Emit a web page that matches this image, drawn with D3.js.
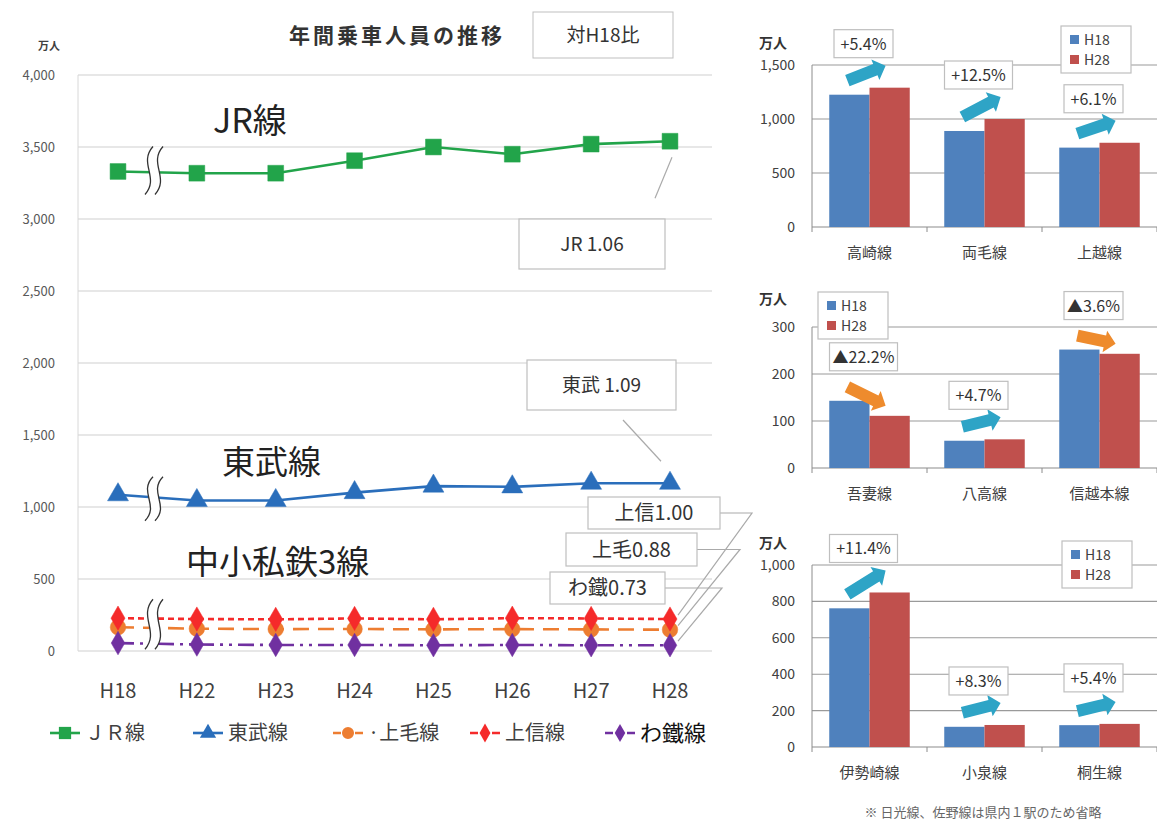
<!DOCTYPE html>
<html>
<head>
<meta charset="utf-8">
<script src="https://cdn.jsdelivr.net/npm/d3@7"></script>
<style>
body { margin: 0; background: #fff; }
text { font-family: "Noto Sans CJK JP", "Noto Sans", sans-serif; }
</style>
</head>
<body>
<div id="canvas"></div>
<script>
// main line chart data (万人)
var years = ["H18", "H22", "H23", "H24", "H25", "H26", "H27", "H28"];
var jrVals = [3330, 3318, 3318, 3405, 3500, 3450, 3520, 3540];
var tobuVals = [1085, 1045, 1045, 1100, 1145, 1140, 1165, 1165];
var joshinVals = [228, 222, 220, 226, 220, 228, 226, 222];
var jomoVals = [165, 155, 152, 153, 150, 152, 150, 148];
var watetsuVals = [55, 45, 42, 42, 40, 42, 40, 40];
var mainTicks = [0, 500, 1000, 1500, 2000, 2500, 3000, 3500, 4000];

// right bar charts data
var lines1 = ["高崎線", "両毛線", "上越線"];
var h18a = [1225, 889, 735], h28a = [1290, 1000, 780];
var pct1 = ["+5.4%", "+12.5%", "+6.1%"];
var lines2 = ["吾妻線", "八高線", "信越本線"];
var h18b = [143, 58, 252], h28b = [111, 61, 243];
var pct2 = ["▲22.2%", "+4.7%", "▲3.6%"];
var lines3 = ["伊勢崎線", "小泉線", "桐生線"];
var h18c = [762, 111, 120], h28c = [849, 121, 127];
var pct3 = ["+11.4%", "+8.3%", "+5.4%"];

var svg = d3.select("#canvas").append("svg")
	.attr("width", 1157).attr("height", 823);

// ---------- main chart ----------
var x = d3.scalePoint().domain(years).range([118, 670]);
var y = d3.scaleLinear().domain([0, 4000]).range([651, 75]);
var plotL = 78, plotR = 712;

var g = svg.append("g");

// grid
g.selectAll(".grid").data(mainTicks).enter().append("line")
	.attr("x1", plotL).attr("x2", plotR)
	.attr("y1", function(d) { return y(d); }).attr("y2", function(d) { return y(d); })
	.attr("stroke", "#cfcfcf").attr("stroke-width", 1.2);
g.append("line").attr("x1", plotL).attr("x2", plotL).attr("y1", y(4000)).attr("y2", y(0))
	.attr("stroke", "#d8d8d8");

// y tick labels
g.selectAll(".ytl").data(mainTicks).enter().append("text")
	.attr("x", 55).attr("y", function(d) { return y(d) + 5; })
	.attr("text-anchor", "end").attr("font-size", 13).attr("fill", "#595959")
	.text(d3.format(","));
g.append("text").attr("x", 49).attr("y", 50).attr("text-anchor", "middle")
	.attr("font-size", 11).attr("font-weight", "bold").attr("fill", "#404040").text("万人");

// x tick labels
g.selectAll(".xtl").data(years).enter().append("text")
	.attr("x", function(d) { return x(d); }).attr("y", 698)
	.attr("text-anchor", "middle").attr("font-size", 20).attr("fill", "#404040")
	.text(function(d) { return d; });

// title
g.append("text").attr("x", 397).attr("y", 43).attr("text-anchor", "middle")
	.attr("font-size", 21).attr("letter-spacing", 3).attr("font-weight", "bold").attr("fill", "#333").text("年間乗車人員の推移");
g.append("rect").attr("x", 533).attr("y", 12).attr("width", 140).attr("height", 46)
	.attr("fill", "#fff").attr("stroke", "#bfbfbf");
g.append("text").attr("x", 603).attr("y", 42).attr("text-anchor", "middle")
	.attr("font-size", 19).attr("fill", "#333").text("対H18比");

var series = [
	{ name: "JR", vals: jrVals, color: "#22a44a", dash: null, marker: "square", size: 250 },
	{ name: "東武", vals: tobuVals, color: "#2a6ebb", dash: null, marker: "triangle", size: 190 },
	{ name: "上毛", vals: jomoVals, color: "#ed7d31", dash: "16,9", marker: "circle", size: 190 },
	{ name: "上信", vals: joshinVals, color: "#f52a2a", dash: "6,4", marker: "diamond", size: 170 },
	{ name: "わ鐵", vals: watetsuVals, color: "#7030a0", dash: "16,6,3,6,3,6", marker: "diamond", size: 160 }
];
var symbols = { square: d3.symbolSquare, triangle: d3.symbolTriangle, circle: d3.symbolCircle, diamond: d3.symbolDiamond };

var line = d3.line().x(function(d, i) { return x(years[i]); }).y(function(d) { return y(d); });
series.forEach(function(s) {
	g.append("path").attr("d", line(s.vals)).attr("fill", "none")
		.attr("stroke", s.color).attr("stroke-width", 2.6)
		.attr("stroke-dasharray", s.dash);
});

// break marks (wavy)
function breakMark(cy, h) {
	var cx = 154, t = cy - h / 2, b = cy + h / 2;
	function s(dx) {
		return [[cx + 4 + dx, t], [cx - 11 + dx, t + h * 0.35], [cx + 11 + dx, b - h * 0.35], [cx - 4 + dx, b]];
	}
	var a = s(-5), c = s(5);
	g.append("path")
		.attr("d", "M" + a[0] + "C" + a[1] + " " + a[2] + " " + a[3] + "L" + c[3] +
			"C" + c[2] + " " + c[1] + " " + c[0] + "Z")
		.attr("fill", "#fff").attr("stroke", "none");
	[a, c].forEach(function(p) {
		g.append("path").attr("d", "M" + p[0] + "C" + p[1] + " " + p[2] + " " + p[3])
			.attr("fill", "none").attr("stroke", "#333").attr("stroke-width", 1.3);
	});
}

series.forEach(function(s) {
	g.selectAll(null).data(s.vals).enter().append("path")
		.attr("transform", function(d, i) { return "translate(" + x(years[i]) + "," + y(d) + ")"; })
		.attr("d", d3.symbol().type(symbols[s.marker]).size(s.size))
		.attr("fill", s.color).attr("stroke", s.color).attr("stroke-width", 0.5);
});
breakMark(y(jrVals[0]) - 1, 48);
breakMark(y(tobuVals[0]) + 4, 44);
breakMark(y(jomoVals[0]) - 3, 50);

// big labels
g.append("text").attr("x", 213).attr("y", 133).attr("font-size", 34).attr("fill", "#222").text("JR線");
g.append("text").attr("x", 222).attr("y", 474).attr("font-size", 33).attr("fill", "#222").text("東武線");
g.append("text").attr("x", 186).attr("y", 574).attr("font-size", 33).attr("fill", "#222").text("中小私鉄3線");

// callouts
function callout(bx, by, bw, bh, label, fs) {
	g.append("rect").attr("x", bx).attr("y", by).attr("width", bw).attr("height", bh)
		.attr("fill", "#fff").attr("stroke", "#bfbfbf").attr("stroke-width", 1.2);
	g.append("text").attr("x", bx + bw / 2).attr("y", by + bh / 2 + fs * 0.36)
		.attr("text-anchor", "middle").attr("font-size", fs).attr("fill", "#333").text(label);
}
var xe = x("H28");
g.append("line").attr("x1", xe + 2).attr("y1", y(jrVals[7]) + 16).attr("x2", xe - 15).attr("y2", y(jrVals[7]) + 57)
	.attr("stroke", "#aaa").attr("stroke-width", 1.2);
callout(519, 219, 146, 50, "JR 1.06", 19);
g.append("line").attr("x1", 623).attr("y1", 420).attr("x2", xe - 9).attr("y2", y(tobuVals[7]) - 22)
	.attr("stroke", "#aaa").attr("stroke-width", 1.2);
callout(527, 360, 149, 50, "東武 1.09", 19);

var smallCallouts = [
	{ bx: 588, by: 497, bw: 132, bh: 32, label: "上信1.00", v: joshinVals[7], kx: 752 },
	{ bx: 566, by: 533, bw: 131, bh: 33, label: "上毛0.88", v: jomoVals[7], kx: 740 },
	{ bx: 550, by: 572, bw: 115, bh: 32, label: "わ鐵0.73", v: watetsuVals[7], kx: 722 }
];
smallCallouts.forEach(function(c) {
	var cy = c.by + c.bh / 2;
	g.append("polyline")
		.attr("points", [[c.bx + c.bw, cy], [c.kx, cy], [xe + 8, y(c.v) - 4]].join(" "))
		.attr("fill", "none").attr("stroke", "#aaa").attr("stroke-width", 1.2);
});
smallCallouts.forEach(function(c) { callout(c.bx, c.by, c.bw, c.bh, c.label, 20); });

// legend
var legItems = [
	{ s: series[0], label: "ＪＲ線", lx: 50, col: "#404040", fs: 20 },
	{ s: series[1], label: "東武線", lx: 193, col: "#404040", fs: 20 },
	{ s: series[2], label: "·上毛線", lx: 333, col: "#404040", fs: 20 },
	{ s: series[3], label: "上信線", lx: 470, col: "#404040", fs: 20 },
	{ s: series[4], label: "わ鐵線", lx: 605, col: "#111", fs: 22 }
];
legItems.forEach(function(it) {
	var ly = 733;
	g.append("line").attr("x1", it.lx).attr("x2", it.lx + 30).attr("y1", ly).attr("y2", ly)
		.attr("stroke", it.s.color).attr("stroke-width", 2.6)
		.attr("stroke-dasharray", it.s.dash ? "8,3" : null);
	g.append("path").attr("transform", "translate(" + (it.lx + 15) + "," + ly + ")")
		.attr("d", d3.symbol().type(symbols[it.s.marker]).size(it.s.size * 0.6))
		.attr("fill", it.s.color);
	g.append("text").attr("x", it.lx + 35).attr("y", ly + it.fs * 0.36)
		.attr("font-size", it.fs).attr("fill", it.col).text(it.label);
});

// ---------- right bar charts ----------
function barChart(cfg) {
	var bg = svg.append("g");
	var xb = d3.scaleBand().domain(cfg.cats).range([812, 1157]).paddingInner(0.3).paddingOuter(0.15);
	var xs = d3.scaleBand().domain(["H18", "H28"]).range([0, xb.bandwidth()]);
	var yb = d3.scaleLinear().domain([0, cfg.max]).range([cfg.bottom, cfg.top]);
	var ticks = d3.range(0, cfg.max + 1, cfg.step);

	bg.selectAll(null).data(ticks).enter().append("line")
		.attr("x1", 812).attr("x2", 1157)
		.attr("y1", function(d) { return yb(d); }).attr("y2", function(d) { return yb(d); })
		.attr("stroke", function(d) { return d === 0 ? "#8c8c8c" : "#9a9a9a"; }).attr("stroke-width", 1.1);
	bg.append("line").attr("x1", 812).attr("x2", 812).attr("y1", cfg.top).attr("y2", cfg.bottom + 5)
		.attr("stroke", "#8c8c8c");
	[1, 2, 3].forEach(function(i) {
		var tx = 812 + xb.step() * i;
		bg.append("line").attr("x1", tx).attr("x2", tx).attr("y1", cfg.bottom).attr("y2", cfg.bottom + 5)
			.attr("stroke", "#8c8c8c");
	});
	bg.selectAll(null).data(ticks).enter().append("text")
		.attr("x", 795).attr("y", function(d) { return yb(d) + 5; })
		.attr("text-anchor", "end").attr("font-size", 14).attr("fill", "#404040")
		.text(d3.format(","));
	bg.append("text").attr("x", 773).attr("y", cfg.unitY).attr("text-anchor", "middle")
		.attr("font-size", 14).attr("font-weight", "bold").attr("fill", "#333").text("万人");

	cfg.cats.forEach(function(c, i) {
		var pair = [cfg.a[i], cfg.b[i]];
		bg.selectAll(null).data(pair).enter().append("rect")
			.attr("x", function(d, j) { return xb(c) + xs(j ? "H28" : "H18"); })
			.attr("y", function(d) { return yb(d); })
			.attr("width", xs.bandwidth())
			.attr("height", function(d) { return cfg.bottom - yb(d); })
			.attr("fill", function(d, j) { return j ? "#c0504d" : "#4f81bd"; });
		bg.append("text").attr("x", xb(c) + xb.bandwidth() / 2).attr("y", cfg.bottom + 31)
			.attr("text-anchor", "middle").attr("font-size", 15).attr("fill", "#404040").text(c);

		// arrow
		var up = cfg.b[i] >= cfg.a[i];
		var col = up ? "#2ea4c6" : "#ee8b2d";
		var x0 = xb(c) + xs.bandwidth() * 0.45, x1 = xb(c) + xs.bandwidth() * 1.4;
		var y0 = yb(cfg.a[i]) - 14, y1 = yb(cfg.b[i]) - (up ? 22 : 10);
		var ang = Math.atan2(y1 - y0, x1 - x0), len = Math.hypot(x1 - x0, y1 - y0);
		var ag = bg.append("g").attr("transform", "translate(" + x0 + "," + y0 + ") rotate(" + (ang * 180 / Math.PI) + ")");
		ag.append("path")
			.attr("d", "M0,-6 L" + (len - 11) + ",-6 L" + (len - 11) + ",-11 L" + len + ",0 L" +
				(len - 11) + ",11 L" + (len - 11) + ",6 L0,6 Z")
			.attr("fill", col);

		// pct box
		var top = Math.min(yb(cfg.a[i]), yb(cfg.b[i]));
		var tw = cfg.pct[i].length * 9 + 14;
		var bcx = xb(c) + xb.bandwidth() / 2 - 6;
		var byy = top - 29 - 29 + (cfg.boxShift ? cfg.boxShift[i] : 0);
		bg.append("rect").attr("x", bcx - tw / 2).attr("y", byy).attr("width", tw).attr("height", 28)
			.attr("fill", "#fff").attr("stroke", "#bfbfbf").attr("stroke-width", 1.2);
		bg.append("text").attr("x", bcx).attr("y", byy + 20).attr("text-anchor", "middle")
			.attr("font-size", 16).attr("fill", "#333").text(cfg.pct[i]);
	});

	// legend
	var lg = bg.append("g").attr("transform", "translate(" + cfg.leg[0] + "," + cfg.leg[1] + ")");
	lg.append("rect").attr("width", 70).attr("height", 47).attr("fill", "#fff")
		.attr("stroke", "#bfbfbf").attr("stroke-width", 1.2);
	["H18", "H28"].forEach(function(k, j) {
		lg.append("rect").attr("x", 9).attr("y", 9 + j * 20).attr("width", 9).attr("height", 9)
			.attr("fill", j ? "#c0504d" : "#4f81bd");
		lg.append("text").attr("x", 23).attr("y", 19 + j * 20).attr("font-size", 14)
			.attr("fill", "#404040").text(k);
	});
}

barChart({ cats: lines1, a: h18a, b: h28a, pct: pct1, max: 1500, step: 500,
	top: 65, bottom: 227, unitY: 48, leg: [1061, 26] });
barChart({ cats: lines2, a: h18b, b: h28b, pct: pct2, max: 300, step: 100,
	top: 327, bottom: 468, unitY: 304, leg: [818, 292] });
barChart({ cats: lines3, a: h18c, b: h28c, pct: pct3, max: 1000, step: 200,
	top: 565, bottom: 747, unitY: 548, leg: [1062, 541], boxShift: [0, 0, -2] });

svg.append("text").attr("x", 983).attr("y", 817).attr("text-anchor", "middle")
	.attr("font-size", 13).attr("fill", "#666").text("※ 日光線、佐野線は県内１駅のため省略");
</script>
</body>
</html>
